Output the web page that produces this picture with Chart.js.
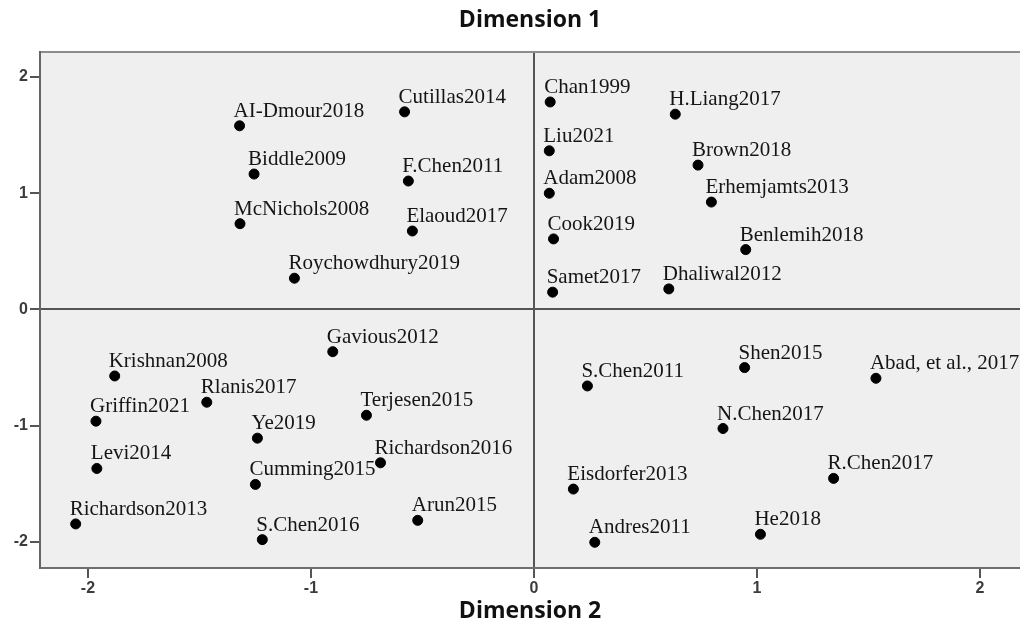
<!DOCTYPE html>
<html>
<head>
<meta charset="utf-8">
<script src="https://cdn.jsdelivr.net/npm/chart.js@4"></script>
<style>
  html, body { margin: 0; padding: 0; background: #fff; overflow: hidden; }
  #wrap { width: 1020px; height: 625px; position: relative; }
</style>
</head>
<body>
<div id="wrap"><canvas id="mdsChart"></canvas></div>
<script>
const studies = [
  'AI-Dmour2018', 'Cutillas2014', 'Biddle2009', 'F.Chen2011', 'McNichols2008', 'Elaoud2017', 'Roychowdhury2019',
  'Chan1999', 'H.Liang2017', 'Liu2021', 'Brown2018', 'Adam2008', 'Erhemjamts2013', 'Cook2019', 'Benlemih2018', 'Samet2017', 'Dhaliwal2012',
  'Gavious2012', 'Krishnan2008', 'Rlanis2017', 'Griffin2021', 'Terjesen2015', 'Ye2019', 'Levi2014', 'Richardson2016', 'Cumming2015', 'Richardson2013', 'Arun2015', 'S.Chen2016',
  'S.Chen2011', 'Shen2015', 'Abad, et al., 2017', 'N.Chen2017', 'R.Chen2017', 'Eisdorfer2013', 'He2018', 'Andres2011'
];
// horizontal axis (Dimension 2)
const dim2 = [
  -1.32, -0.58, -1.255, -0.563, -1.318, -0.545, -1.074,
  0.073, 0.634, 0.069, 0.736, 0.069, 0.796, 0.088, 0.95, 0.084, 0.605,
  -0.902, -1.88, -1.467, -1.964, -0.751, -1.24, -1.96, -0.688, -1.249, -2.055, -0.521, -1.218,
  0.24, 0.945, 1.534, 0.848, 1.344, 0.177, 1.016, 0.273
];
// vertical axis (Dimension 1)
const dim1 = [
  1.58, 1.70, 1.165, 1.105, 0.738, 0.675, 0.269,
  1.785, 1.68, 1.365, 1.242, 1.0, 0.924, 0.607, 0.515, 0.149, 0.177,
  -0.363, -0.572, -0.798, -0.961, -0.91, -1.107, -1.368, -1.319, -1.505, -1.845, -1.814, -1.98,
  -0.658, -0.5, -0.592, -1.024, -1.453, -1.545, -1.934, -2.003
];
const tickValues = [-2, -1, 0, 1, 2];
const tickLabels = ['-2', '-1', '0', '1', '2'];

const points = dim2.map((x, i) => ({ x: x, y: dim1[i] }));

const tickFont = { family: 'Liberation Sans', size: 16, weight: 'bold' };

function zeroLine(ctx) {
  return ctx.tick && ctx.tick.value === 0 ? '#555555' : 'rgba(0,0,0,0)';
}
function fixTicks(scale) {
  scale.ticks = tickValues.map(v => ({ value: v }));
}
function noSidePadding(scale) {
  scale.paddingLeft = 0;
  scale.paddingRight = 0;
  scale.paddingTop = 0;
  scale.paddingBottom = 0;
}

// plot area background
const plotBackground = {
  id: 'plotBackground',
  beforeDraw(chart) {
    const { ctx, chartArea: a } = chart;
    ctx.save();
    ctx.fillStyle = '#efefef';
    ctx.fillRect(a.left, a.top, a.right - a.left, a.bottom - a.top);
    ctx.restore();
  }
};

// study names next to points
const pointNames = {
  id: 'pointNames',
  afterDatasetsDraw(chart) {
    const { ctx } = chart;
    const meta = chart.getDatasetMeta(0);
    ctx.save();
    ctx.font = '21px "Liberation Serif", "Times New Roman", serif';
    ctx.fillStyle = '#151515';
    ctx.textAlign = 'left';
    ctx.textBaseline = 'alphabetic';
    meta.data.forEach((el, i) => {
      ctx.fillText(studies[i], el.x - 6, el.y - 9);
    });
    ctx.restore();
  }
};

const ctx = document.getElementById('mdsChart').getContext('2d');
const mdsChart = new Chart(ctx, {
  type: 'scatter',
  data: {
    datasets: [{
      label: 'Studies',
      data: points,
      backgroundColor: '#000000',
      borderColor: '#000000',
      pointRadius: 5,
      pointHoverRadius: 5
    }]
  },
  options: {
    responsive: true,
    maintainAspectRatio: false,
    animation: false,
    layout: { padding: 0, autoPadding: false },
    scales: {
      x: {
        type: 'linear',
        position: 'bottom',
        min: -2.215,
        max: 2.18,
        afterBuildTicks: fixTicks,
        afterFit: (scale) => { scale.height = 57; noSidePadding(scale); },
        ticks: {
          callback: (v) => tickLabels[tickValues.indexOf(v)],
          font: tickFont,
          color: '#3c3c3c',
          padding: 1,
          maxRotation: 0
        },
        grid: {
          color: zeroLine,
          lineWidth: 2,
          tickColor: '#555555',
          tickLength: 10,
          tickWidth: 2
        },
        border: { display: true, color: '#6f6f6f', width: 2 },
        title: {
          display: true,
          text: 'Dimension 2',
          font: { family: 'Open Sans', size: 23, weight: 'bold' },
          color: '#111111',
          padding: { top: 0, bottom: 0 }
        }
      },
      xTop: {
        type: 'linear',
        position: 'top',
        min: -2.215,
        max: 2.18,
        afterFit: (scale) => { scale.height = 52; noSidePadding(scale); },
        ticks: { display: false },
        grid: { display: false, drawTicks: false },
        border: { display: true, color: '#8c8c8c', width: 2 },
        title: {
          display: true,
          text: 'Dimension 1',
          font: { family: 'Open Sans', size: 23, weight: 'bold' },
          color: '#111111',
          padding: { top: 7, bottom: 0 }
        }
      },
      y: {
        type: 'linear',
        position: 'left',
        min: -2.224,
        max: 2.215,
        afterBuildTicks: fixTicks,
        afterFit: (scale) => { scale.width = 40; noSidePadding(scale); },
        ticks: {
          callback: (v) => tickLabels[tickValues.indexOf(v)],
          font: tickFont,
          color: '#3c3c3c',
          padding: 2
        },
        grid: {
          color: zeroLine,
          lineWidth: 2,
          tickColor: '#555555',
          tickLength: 10,
          tickWidth: 2
        },
        border: { display: true, color: '#666666', width: 2 }
      }
    },
    plugins: {
      legend: { display: false },
      tooltip: { enabled: false }
    }
  },
  plugins: [plotBackground, pointNames]
});
</script>
</body>
</html>
